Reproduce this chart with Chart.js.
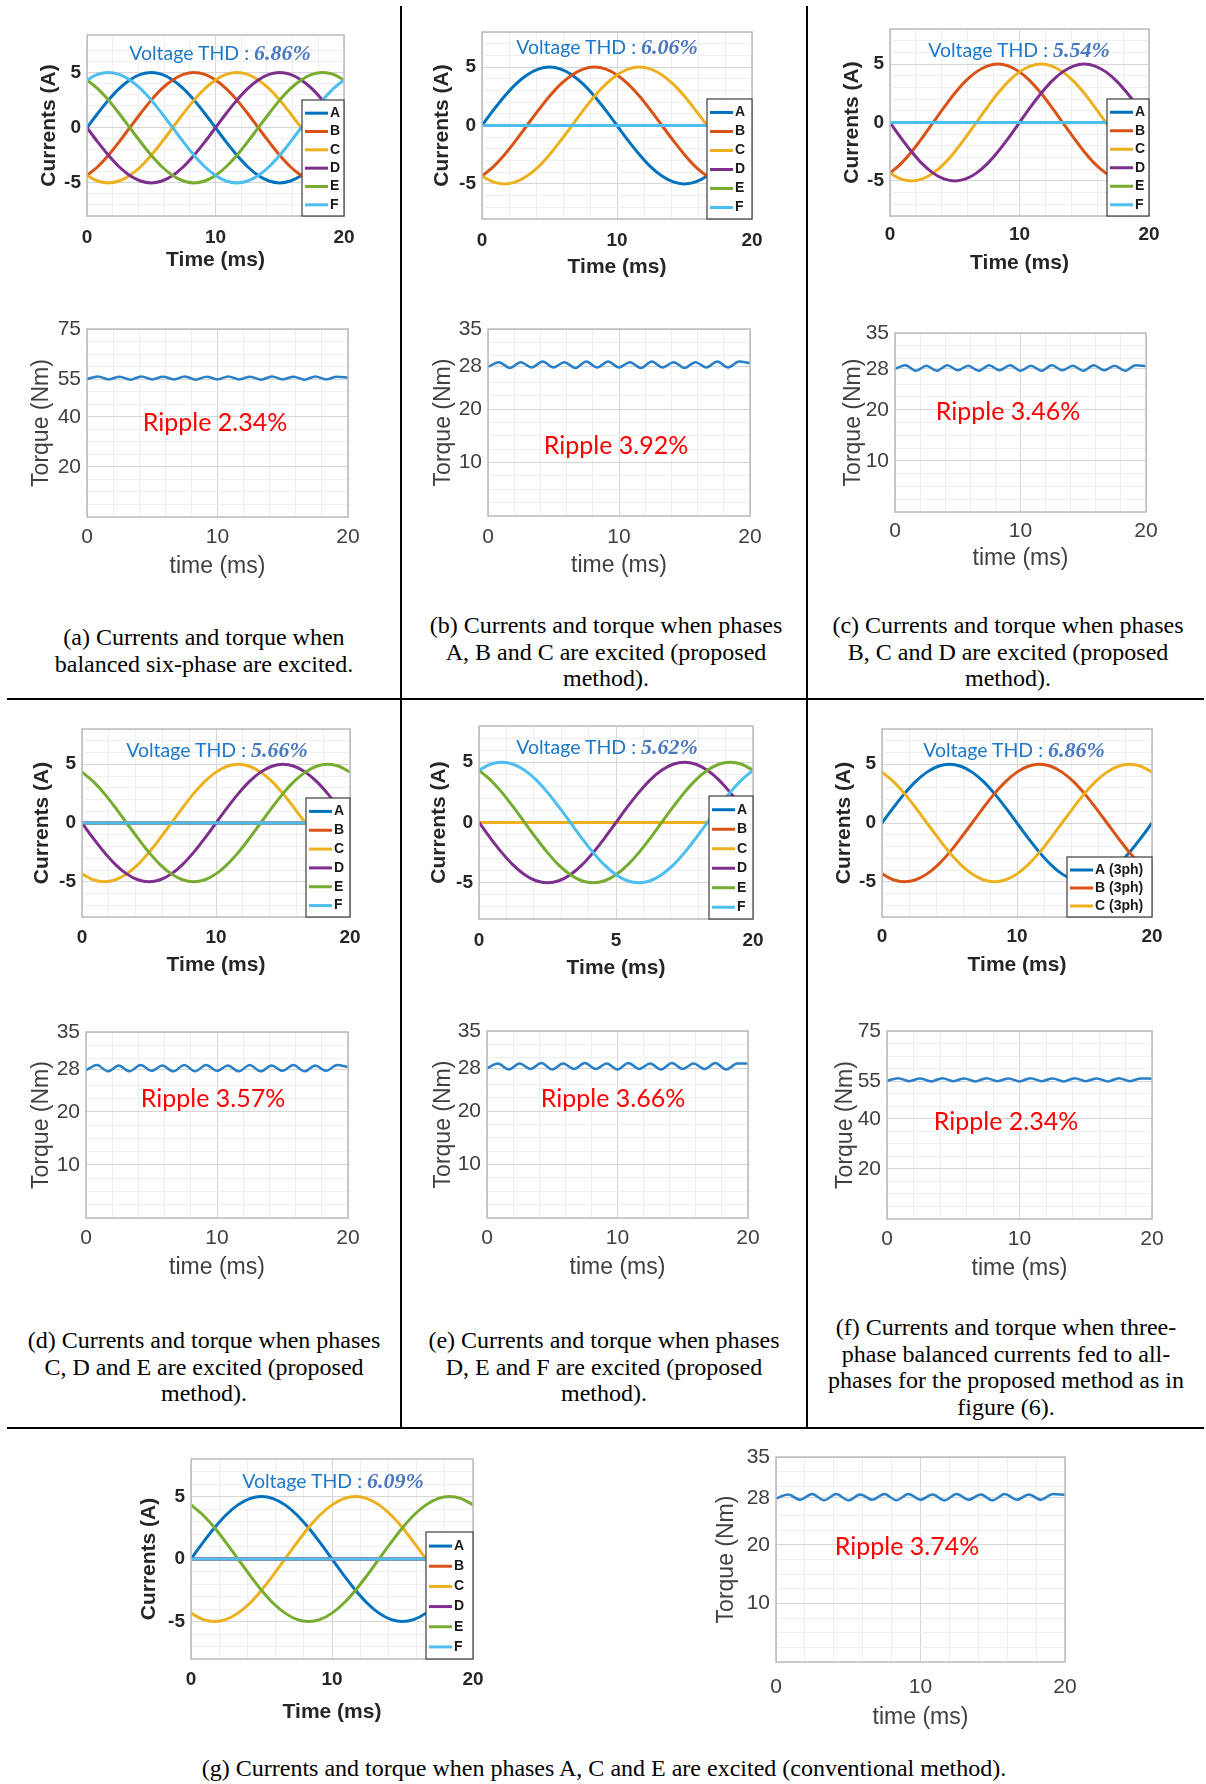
<!DOCTYPE html>
<html>
<head>
<meta charset="utf-8">
<script src="https://cdn.jsdelivr.net/npm/chart.js@4.4.1/dist/chart.umd.min.js"></script>
<style>
  body { margin: 0; background: #fff; }
  #page { position: relative; width: 1206px; height: 1784px; overflow: hidden; background: #fff; }
  canvas { position: absolute; }
  .rule { position: absolute; background: #000; }
  .thd { position: absolute; transform: translate(-50%, -50%); white-space: nowrap; color: #1e78c8; font: 19.5px Lato, sans-serif; }
  .thd b { font: italic bold 22px "Liberation Serif", serif; color: #4a78c0; }
  .ripple { position: absolute; transform: translate(-50%, -50%); white-space: nowrap; color: #ff0000; font: 25px Lato, sans-serif; }
  .cap { position: absolute; transform: translateX(-50%); white-space: nowrap; text-align: center; color: #000; font: 24px/26.5px "Liberation Serif", serif; }
</style>
</head>
<body>
<div id="page"></div>
<script>
// time samples (ms), one every 1/24 of the 20 ms period
const time = [0, 0.83, 1.67, 2.5, 3.33, 4.17, 5, 5.83, 6.67, 7.5, 8.33, 9.17, 10, 10.83, 11.67, 12.5, 13.33, 14.17, 15, 15.83, 16.67, 17.5, 18.33, 19.17, 20];

// phase currents (A)
const phaseA = [0, 1.29, 2.5, 3.54, 4.33, 4.83, 5, 4.83, 4.33, 3.54, 2.5, 1.29, 0, -1.29, -2.5, -3.54, -4.33, -4.83, -5, -4.83, -4.33, -3.54, -2.5, -1.29, 0];
const phaseB = [-4.33, -3.54, -2.5, -1.29, 0, 1.29, 2.5, 3.54, 4.33, 4.83, 5, 4.83, 4.33, 3.54, 2.5, 1.29, 0, -1.29, -2.5, -3.54, -4.33, -4.83, -5, -4.83, -4.33];
const phaseC = [-4.33, -4.83, -5, -4.83, -4.33, -3.54, -2.5, -1.29, 0, 1.29, 2.5, 3.54, 4.33, 4.83, 5, 4.83, 4.33, 3.54, 2.5, 1.29, 0, -1.29, -2.5, -3.54, -4.33];
const phaseD = [0, -1.29, -2.5, -3.54, -4.33, -4.83, -5, -4.83, -4.33, -3.54, -2.5, -1.29, 0, 1.29, 2.5, 3.54, 4.33, 4.83, 5, 4.83, 4.33, 3.54, 2.5, 1.29, 0];
const phaseE = [4.33, 3.54, 2.5, 1.29, 0, -1.29, -2.5, -3.54, -4.33, -4.83, -5, -4.83, -4.33, -3.54, -2.5, -1.29, 0, 1.29, 2.5, 3.54, 4.33, 4.83, 5, 4.83, 4.33];
const phaseF = [4.33, 4.83, 5, 4.83, 4.33, 3.54, 2.5, 1.29, 0, -1.29, -2.5, -3.54, -4.33, -4.83, -5, -4.83, -4.33, -3.54, -2.5, -1.29, 0, 1.29, 2.5, 3.54, 4.33];
const phaseOff = [0, 0, 0, 0, 0, 0, 0, 0, 0, 0, 0, 0, 0, 0, 0, 0, 0, 0, 0, 0, 0, 0, 0, 0, 0];

// torque (Nm)
const torqueA = [55.0, 56.1, 54.9, 56.0, 54.8, 56.1, 54.9, 56.0, 54.9, 56.1, 54.8, 56.0, 54.9, 56.1, 54.9, 56.0, 54.8, 56.1, 54.9, 56.0, 54.8, 56.1, 54.9, 56.0, 55.6];
const torqueB = [27.9, 28.8, 27.7, 28.8, 27.8, 28.9, 27.8, 28.8, 27.7, 28.9, 27.8, 28.9, 27.8, 28.8, 27.7, 28.9, 27.8, 28.8, 27.7, 28.8, 27.8, 28.9, 27.8, 28.9, 28.6];
const torqueC = [28.0, 28.7, 27.6, 28.6, 27.6, 28.7, 27.7, 28.6, 27.6, 28.7, 27.7, 28.7, 27.6, 28.6, 27.6, 28.7, 27.7, 28.6, 27.6, 28.7, 27.7, 28.6, 27.6, 28.7, 28.5];
const torqueD = [27.8, 28.8, 27.6, 28.7, 27.6, 28.8, 27.7, 28.7, 27.6, 28.8, 27.6, 28.8, 27.7, 28.7, 27.6, 28.8, 27.6, 28.7, 27.7, 28.8, 27.6, 28.7, 27.7, 28.8, 28.4];
const torqueE = [28.0, 28.9, 27.8, 28.9, 27.9, 29.0, 27.8, 28.9, 27.9, 29.0, 27.9, 28.9, 27.8, 29.0, 27.9, 28.9, 27.8, 29.0, 27.9, 28.9, 27.9, 29.0, 27.8, 28.9, 28.9];
const torqueF = [55.1, 56.2, 55.0, 56.1, 54.9, 56.2, 55.0, 56.1, 54.9, 56.2, 55.0, 56.1, 54.9, 56.2, 55.0, 56.1, 54.9, 56.2, 55.0, 56.1, 54.9, 56.2, 55.0, 56.1, 56.0];
const torqueG = [27.9, 28.6, 27.7, 28.7, 27.6, 28.7, 27.6, 28.6, 27.7, 28.7, 27.6, 28.7, 27.7, 28.6, 27.6, 28.7, 27.7, 28.6, 27.6, 28.7, 27.7, 28.6, 27.7, 28.7, 28.5];

const phaseNames = ["A", "B", "C", "D", "E", "F"];
const phaseNames3 = ["A (3ph)", "B (3ph)", "C (3ph)"];
const phaseColors = ["#0072BD", "#D95319", "#EDB120", "#7E2F8E", "#77AC30", "#4DBEEE"];
const phaseColors3 = ["#0072BD", "#D95319", "#EDB120"];

const timeTickValues = [0, 10, 20];
const timeTickLabels = ["0", "10", "20"];
const timeTickLabelsE = ["0", "5", "20"];
const currentTickValues = [-5, 0, 5];
const torqueTicks35 = [10, 20, 28, 35];
const torqueTicks75 = [20, 40, 55, 75];

const thdValues = ["6.86%", "6.06%", "5.54%", "5.66%", "5.62%", "6.86%", "6.09%"];
const rippleValues = ["2.34%", "3.92%", "3.46%", "3.57%", "3.66%", "2.34%", "3.74%"];

const captions = [
  ["(a) Currents and torque when", "balanced six-phase are excited."],
  ["(b) Currents and torque when phases", "A, B and C are excited (proposed", "method)."],
  ["(c) Currents and torque when phases", "B, C and D are excited (proposed", "method)."],
  ["(d) Currents and torque when phases", "C, D and E are excited (proposed", "method)."],
  ["(e) Currents and torque when phases", "D, E and F are excited (proposed", "method)."],
  ["(f) Currents and torque when three-", "phase balanced currents fed to all-", "phases for the proposed method as in", "figure (6)."],
  ["(g) Currents and torque when phases A, C and E are excited (conventional method)."],
];

const panels = [
  { series: [phaseA, phaseB, phaseC, phaseD, phaseE, phaseF], names: phaseNames, colors: phaseColors, xLabels: timeTickLabels, torque: torqueA, tMax: 75, tTicks: torqueTicks75 },
  { series: [phaseA, phaseB, phaseC, phaseOff, phaseOff, phaseOff], names: phaseNames, colors: phaseColors, xLabels: timeTickLabels, torque: torqueB, tMax: 35, tTicks: torqueTicks35 },
  { series: [phaseOff, phaseB, phaseC, phaseD, phaseOff, phaseOff], names: phaseNames, colors: phaseColors, xLabels: timeTickLabels, torque: torqueC, tMax: 35, tTicks: torqueTicks35 },
  { series: [phaseOff, phaseOff, phaseC, phaseD, phaseE, phaseOff], names: phaseNames, colors: phaseColors, xLabels: timeTickLabels, torque: torqueD, tMax: 35, tTicks: torqueTicks35 },
  { series: [phaseOff, phaseOff, phaseOff, phaseD, phaseE, phaseF], names: phaseNames, colors: phaseColors, xLabels: timeTickLabelsE, torque: torqueE, tMax: 35, tTicks: torqueTicks35 },
  { series: [phaseA, phaseC, phaseE], names: phaseNames3, colors: phaseColors3, xLabels: timeTickLabels, torque: torqueF, tMax: 75, tTicks: torqueTicks75 },
  { series: [phaseA, phaseOff, phaseC, phaseOff, phaseE, phaseOff], names: phaseNames, colors: phaseColors, xLabels: timeTickLabels, torque: torqueG, tMax: 35, tTicks: torqueTicks35 },
];

// page layout (pixels): plot boxes, axis title / tick positions, legends, labels
const currentBoxes = [
  { l: 87, t: 35, r: 344, b: 216, yTitleX: 50, xTickY: 238, xTitleY: 260, yMax: 8.4, leg: { w: 42, h: 116 }, thd: [220, 53] },
  { l: 482, t: 32, r: 752, b: 219, yTitleX: 443, xTickY: 241, xTitleY: 267, yMax: 8, leg: { w: 45, h: 120 }, thd: [607, 47] },
  { l: 890, t: 29, r: 1149, b: 216, yTitleX: 853, xTickY: 235, xTitleY: 263, yMax: 8, leg: { w: 42, h: 117 }, thd: [1019, 50] },
  { l: 82, t: 729, r: 350, b: 917, yTitleX: 43, xTickY: 938, xTitleY: 965, yMax: 8, leg: { w: 44, h: 119 }, thd: [217, 750] },
  { l: 479, t: 726, r: 753, b: 919, yTitleX: 440, xTickY: 941, xTitleY: 968, yMax: 8, leg: { w: 44, h: 123 }, thd: [607, 747] },
  { l: 882, t: 729, r: 1152, b: 917, yTitleX: 845, xTickY: 937, xTitleY: 965, yMax: 8, leg: { w: 85, h: 60 }, thd: [1014, 750] },
  { l: 191, t: 1459, r: 473, b: 1659, yTitleX: 150, xTickY: 1680, xTitleY: 1712, yMax: 8, leg: { w: 47, h: 127 }, thd: [333, 1481] },
];
const torqueBoxes = [
  { l: 87, t: 329, r: 348, b: 517, yTitleX: 42, xTickY: 537, xTitleY: 566, ripple: [215, 421], cap: [204, 637] },
  { l: 488, t: 329, r: 750, b: 516, yTitleX: 444, xTickY: 537, xTitleY: 565, ripple: [616, 444], cap: [606, 625] },
  { l: 895, t: 333, r: 1146, b: 512, yTitleX: 854, xTickY: 531, xTitleY: 558, ripple: [1008, 410], cap: [1008, 625] },
  { l: 86, t: 1032, r: 348, b: 1218, yTitleX: 42, xTickY: 1238, xTitleY: 1267, ripple: [213, 1097], cap: [204, 1340] },
  { l: 487, t: 1031, r: 748, b: 1218, yTitleX: 444, xTickY: 1238, xTitleY: 1267, ripple: [613, 1097], cap: [604, 1340] },
  { l: 887, t: 1031, r: 1152, b: 1219, yTitleX: 846, xTickY: 1239, xTitleY: 1268, ripple: [1006, 1120], cap: [1006, 1327] },
  { l: 776, t: 1457, r: 1065, b: 1662, yTitleX: 727, xTickY: 1687, xTitleY: 1717, ripple: [907, 1545], cap: [604, 1768] },
];

const MAJOR = "#d6d6d6";
const MINOR = "#efefef";
const SANS = '"Liberation Sans", Arial, sans-serif';
const page = document.getElementById("page");

// axes box + matlab-style legend drawn over the lines
const frame = {
  id: "frame",
  afterDatasetsDraw(chart, args, opts) {
    const { ctx, chartArea: a } = chart;
    ctx.save();
    ctx.strokeStyle = "#bcbcbc";
    ctx.lineWidth = 1.5;
    ctx.strokeRect(a.left, a.top, a.right - a.left, a.bottom - a.top);
    if (opts.legend) {
      const { w, h } = opts.legend;
      const x0 = a.right - w;
      const y0 = a.bottom - h;
      ctx.fillStyle = "#fff";
      ctx.fillRect(x0, y0, w, h);
      ctx.strokeStyle = "#3c3c3c";
      ctx.lineWidth = 1.2;
      ctx.strokeRect(x0, y0, w, h);
      const ds = chart.data.datasets;
      const rowH = (h - 6) / ds.length;
      ctx.font = "bold 14px " + SANS;
      ctx.textBaseline = "middle";
      ds.forEach((d, i) => {
        const y = y0 + 4 + rowH * (i + 0.5);
        ctx.strokeStyle = d.borderColor;
        ctx.lineWidth = 3;
        ctx.beginPath();
        ctx.moveTo(x0 + 3, y);
        ctx.lineTo(x0 + 26, y);
        ctx.stroke();
        ctx.fillStyle = "#1a1a1a";
        ctx.fillText(d.label, x0 + 28, y);
      });
    }
    ctx.restore();
  },
};

function geometry(B, ft, fT) {
  const left = Math.round(B.yTitleX - 0.6 * fT);
  const top = B.t - 14;
  const right = B.r + 18;
  const bottom = Math.round(B.xTitleY + 0.6 * fT);
  return {
    left, top, width: right - left, height: bottom - top,
    yw: B.l - left, xh: bottom - B.b, xpad: B.xTickY - B.b - 0.6 * ft,
  };
}

function addCanvas(g) {
  const c = document.createElement("canvas");
  c.width = g.width;
  c.height = g.height;
  c.style.left = g.left + "px";
  c.style.top = g.top + "px";
  c.style.width = g.width + "px";
  c.style.height = g.height + "px";
  page.appendChild(c);
  return c;
}

function timeAxis(g, labels, ft, fT, bold, color, title) {
  return {
    type: "linear", min: 0, max: 20,
    afterFit(s) { s.height = g.xh; s.paddingLeft = 0; s.paddingRight = 0; },
    ticks: {
      stepSize: 2, autoSkip: false, maxRotation: 0, padding: g.xpad, color,
      font: { family: SANS, size: ft, weight: bold ? "bold" : "normal" },
      callback: (v) => { const i = timeTickValues.indexOf(v); return i < 0 ? "" : labels[i]; },
    },
    grid: { drawTicks: false, color: (c) => (c.tick && c.tick.value % 10 === 0 ? MAJOR : MINOR) },
    border: { display: false },
    title: { display: true, text: title, padding: 0, color, font: { family: SANS, size: fT, weight: bold ? "bold" : "normal" } },
  };
}

function currentChart(p, B) {
  const g = geometry(B, 19, 21);
  const n = p.series.length;
  new Chart(addCanvas(g), {
    type: "line",
    data: {
      datasets: p.series.map((arr, i) => ({
        label: p.names[i],
        data: time.map((t, k) => ({ x: t, y: arr[k] })),
        borderColor: p.colors[i],
        borderWidth: 3,
        pointRadius: 0,
        cubicInterpolationMode: "monotone",
        order: n - i,
      })),
    },
    options: {
      responsive: false, animation: false, devicePixelRatio: 1,
      layout: { padding: { top: 14, right: 18, left: 0, bottom: 0 } },
      plugins: { legend: { display: false }, tooltip: { enabled: false }, frame: { legend: B.leg } },
      scales: {
        x: timeAxis(g, p.xLabels, 19, 21, true, "#262626", "Time (ms)"),
        y: {
          min: -8, max: B.yMax,
          afterFit(s) { s.width = g.yw; s.paddingTop = 0; s.paddingBottom = 0; },
          ticks: {
            stepSize: 1, autoSkip: false, padding: 6, color: "#262626",
            font: { family: SANS, size: 19, weight: "bold" },
            callback: (v) => (currentTickValues.includes(v) ? String(v) : ""),
          },
          grid: { drawTicks: false, color: (c) => (c.tick && currentTickValues.includes(c.tick.value) ? MAJOR : MINOR) },
          border: { display: false },
          title: { display: true, text: "Currents (A)", padding: 0, color: "#262626", font: { family: SANS, size: 21, weight: "bold" } },
        },
      },
    },
    plugins: [frame],
  });
}

function torqueChart(p, B) {
  const g = geometry(B, 21, 23);
  const step = p.tMax > 50 ? 5 : 2.5;
  new Chart(addCanvas(g), {
    type: "line",
    data: {
      datasets: [{
        label: "Torque",
        data: time.map((t, k) => ({ x: t, y: p.torque[k] })),
        borderColor: "#2a80c8",
        borderWidth: 2.5,
        pointRadius: 0,
        cubicInterpolationMode: "monotone",
      }],
    },
    options: {
      responsive: false, animation: false, devicePixelRatio: 1,
      layout: { padding: { top: 14, right: 18, left: 0, bottom: 0 } },
      plugins: { legend: { display: false }, tooltip: { enabled: false }, frame: {} },
      scales: {
        x: timeAxis(g, timeTickLabels, 21, 23, false, "#404040", "time (ms)"),
        y: {
          min: 0, max: p.tMax,
          afterFit(s) { s.width = g.yw; s.paddingTop = 0; s.paddingBottom = 0; },
          afterBuildTicks(s) {
            const vals = s.ticks.map((t) => t.value)
              .filter((v) => p.tTicks.includes(v) || !p.tTicks.some((m) => Math.abs(m - v) < 1.5));
            p.tTicks.forEach((m) => { if (!vals.includes(m)) vals.push(m); });
            vals.sort((a, b) => a - b);
            s.ticks = vals.map((v) => ({ value: v }));
          },
          ticks: {
            stepSize: step, autoSkip: false, padding: 6, color: "#404040",
            font: { family: SANS, size: 21 },
            callback: (v) => (p.tTicks.includes(v) ? String(v) : ""),
          },
          grid: { drawTicks: false, color: (c) => (c.tick && p.tTicks.includes(c.tick.value) ? MAJOR : MINOR) },
          border: { display: false },
          title: { display: true, text: "Torque (Nm)", padding: 0, color: "#404040", font: { family: SANS, size: 23 } },
        },
      },
    },
    plugins: [frame],
  });
}

function addText(cls, x, y, html) {
  const d = document.createElement("div");
  d.className = cls;
  d.style.left = x + "px";
  d.style.top = y + "px";
  d.innerHTML = html;
  page.appendChild(d);
}

function addRule(x, y, w, h) {
  const d = document.createElement("div");
  d.className = "rule";
  d.style.cssText = `left:${x}px;top:${y}px;width:${w}px;height:${h}px`;
  page.appendChild(d);
}

panels.forEach((p, i) => {
  currentChart(p, currentBoxes[i]);
  torqueChart(p, torqueBoxes[i]);
  const c = currentBoxes[i];
  const t = torqueBoxes[i];
  addText("thd", c.thd[0], c.thd[1], "Voltage THD : <b>" + thdValues[i] + "</b>");
  addText("ripple", t.ripple[0], t.ripple[1], "Ripple " + rippleValues[i]);
  addText("cap", t.cap[0], t.cap[1] - 13, captions[i].join("<br>"));
});

addRule(400, 6, 2, 1422);
addRule(806, 6, 2, 1422);
addRule(7, 698, 1197, 2);
addRule(7, 1427, 1197, 2);
</script>
</body>
</html>
